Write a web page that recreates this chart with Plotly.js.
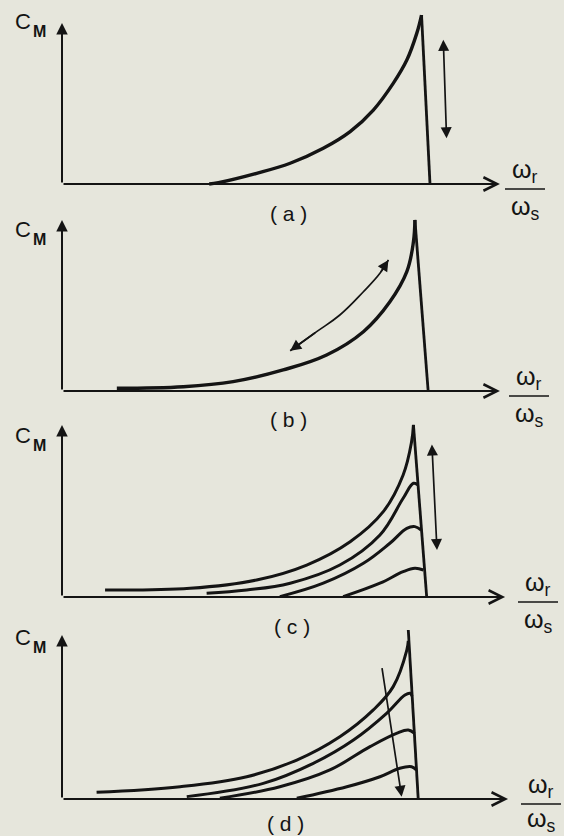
<!DOCTYPE html>
<html><head><meta charset="utf-8">
<script src="https://cdn.plot.ly/plotly-3.0.1.min.js"></script>
<style>html,body{margin:0;padding:0;background:#e6e6dc;}#chart{width:564px;height:836px;}</style>
</head><body><div id="chart"></div>
<script>
// ---------- DATA (relative speed wr/ws on x, relative torque C_M on y) ----------
// Panel (a)
const aCurveX = [0.400, 0.425, 0.529, 0.620, 0.710, 0.783, 0.846, 0.900, 0.937, 0.964, 0.977];
const aCurveY = [0.000, 0.008, 0.063, 0.122, 0.210, 0.308, 0.435, 0.592, 0.729, 0.886, 0.994];
const aDropX = [0.977, 1.000];
const aDropY = [0.994, 0.000];
const aArrowX = [1.036, 1.045];
const aArrowY = [0.857, 0.269];
// Panel (b)
const bCurveX = [0.149, 0.330, 0.465, 0.601, 0.719, 0.819, 0.891, 0.937, 0.955, 0.959];
const bCurveY = [0.016, 0.025, 0.055, 0.124, 0.212, 0.349, 0.525, 0.702, 0.878, 1.006];
const bDropX = [0.959, 0.995];
const bDropY = [1.006, 0.000];
const bArrowX = [0.620, 0.692, 0.755, 0.819, 0.864, 0.887];
const bArrowY = [0.237, 0.349, 0.447, 0.584, 0.692, 0.771];
// Panel (c)
const c1X = [0.117, 0.348, 0.529, 0.665, 0.783, 0.873, 0.927, 0.950, 0.955];
const c1Y = [0.041, 0.051, 0.100, 0.188, 0.325, 0.502, 0.718, 0.914, 1.012];
const c2X = [0.393, 0.502, 0.620, 0.755, 0.864, 0.927, 0.955, 0.968];
const c2Y = [0.022, 0.041, 0.081, 0.188, 0.365, 0.581, 0.669, 0.659];
const c3X = [0.592, 0.710, 0.819, 0.891, 0.937, 0.959, 0.976];
const c3Y = [0.002, 0.081, 0.198, 0.316, 0.404, 0.414, 0.394];
const c4X = [0.764, 0.864, 0.927, 0.959, 0.982];
const c4Y = [0.002, 0.081, 0.149, 0.169, 0.159];
const cDropX = [0.955, 0.991];
const cDropY = [1.012, 0.000];
const cArrowX = [1.005, 1.019];
const cArrowY = [0.906, 0.276];
// Panel (d)
const d1X = [0.094, 0.321, 0.502, 0.638, 0.755, 0.846, 0.900, 0.937, 0.941];
const d1Y = [0.039, 0.072, 0.131, 0.229, 0.366, 0.524, 0.661, 0.876, 0.930];
const d2X = [0.339, 0.547, 0.683, 0.792, 0.882, 0.932, 0.946, 0.951];
const d2Y = [0.014, 0.092, 0.210, 0.347, 0.504, 0.612, 0.622, 0.605];
const d3X = [0.429, 0.592, 0.728, 0.837, 0.909, 0.941, 0.958];
const d3Y = [0.004, 0.072, 0.171, 0.308, 0.386, 0.406, 0.386];
const d4X = [0.638, 0.774, 0.864, 0.918, 0.950, 0.963];
const d4Y = [0.004, 0.072, 0.131, 0.181, 0.190, 0.171];
const dDropX = [0.941, 0.968];
const dDropY = [0.994, 0.000];
const dArrowX = [0.869, 0.923];
const dArrowY = [0.778, 0.013];
// axis lengths (arrow tips) and labels
const yAxisTips = [0.947, 1.006, 1.012, 0.965];
const xAxisTips = [1.190, 1.190, 1.204, 1.212];
const panelLabels = ['( a )', '( b )', '( c )', '( d )'];
const yLabelMain = 'C';
const yLabelSub = 'M';
const xLabelTop = '\u03c9<sub>r</sub>';
const xLabelBottom = '\u03c9<sub>s</sub>';

// ---------- LAYOUT GEOMETRY ----------
const W = 564, H = 836;
const INK = '#141414';
const FONT = 'Liberation Sans, Arial, sans-serif';
const ORIGIN_X = 62, PXX = 368, PXY = 170;
const X_LO = -0.03, X_HI = 1.25, Y_LO = -0.04, Y_HI = 1.08;
const BASE = [184, 391, 597, 799];
const LABEL_X = [288, 288, 292, 285];
const LABEL_DY = [29, 29, 29, 24];
const FRAC_X = [525, 529, 538, 541];
const FRAC_LOW = [24, 24, 24, 21];

const panels = [
  {curves: [[aCurveX, aCurveY]], drop: [aDropX, aDropY], arrow: [aArrowX, aArrowY], both: true},
  {curves: [[bCurveX, bCurveY]], drop: [bDropX, bDropY], curved: [bArrowX, bArrowY]},
  {curves: [[c1X, c1Y], [c2X, c2Y], [c3X, c3Y], [c4X, c4Y]], drop: [cDropX, cDropY], arrow: [cArrowX, cArrowY], both: true},
  {curves: [[d1X, d1Y], [d2X, d2Y], [d3X, d3Y], [d4X, d4Y]], drop: [dDropX, dDropY], arrow: [dArrowX, dArrowY], both: false}
];

const px2x = p => p / W;
const py2y = p => 1 - p / H;

const traces = [];
const layout = {
  width: W, height: H, margin: {l: 0, r: 0, t: 0, b: 0},
  paper_bgcolor: '#e6e6dc', plot_bgcolor: 'rgba(0,0,0,0)',
  showlegend: false, annotations: [], shapes: []
};

panels.forEach((p, i) => {
  const s = i === 0 ? '' : String(i + 1);
  const xa = 'x' + s, ya = 'y' + s;
  const base = BASE[i];
  layout['xaxis' + s] = {
    domain: [px2x(ORIGIN_X + X_LO * PXX), px2x(ORIGIN_X + X_HI * PXX)],
    range: [X_LO, X_HI], visible: false, anchor: ya, fixedrange: true
  };
  layout['yaxis' + s] = {
    domain: [py2y(base - Y_LO * PXY), py2y(base - Y_HI * PXY)],
    range: [Y_LO, Y_HI], visible: false, anchor: xa, fixedrange: true
  };
  p.curves.forEach(c => traces.push({
    type: 'scatter', mode: 'lines', x: c[0], y: c[1], xaxis: xa, yaxis: ya,
    line: {color: INK, width: i < 2 ? 3.4 : 3.0, shape: 'spline', smoothing: 1.1}, hoverinfo: 'skip'
  }));
  traces.push({
    type: 'scatter', mode: 'lines', x: p.drop[0], y: p.drop[1], xaxis: xa, yaxis: ya,
    line: {color: INK, width: 2.8}, hoverinfo: 'skip'
  });
  // axes with arrowheads
  layout.annotations.push({
    xref: xa, yref: ya, axref: xa, ayref: ya, x: 0, y: yAxisTips[i], ax: 0, ay: 0,
    text: '', showarrow: true, arrowhead: 2, arrowsize: 1.15, arrowwidth: 2, arrowcolor: INK, standoff: 0
  });
  layout.annotations.push({
    xref: xa, yref: ya, axref: xa, ayref: ya, x: xAxisTips[i], y: 0, ax: 0, ay: 0,
    text: '', showarrow: true, arrowhead: 5, arrowsize: 1.4, arrowwidth: 1.9, arrowcolor: INK, standoff: 0
  });
  // change-direction arrows
  if (p.arrow) {
    layout.annotations.push({
      xref: xa, yref: ya, axref: xa, ayref: ya,
      x: p.arrow[0][1], y: p.arrow[1][1], ax: p.arrow[0][0], ay: p.arrow[1][0],
      text: '', showarrow: true, arrowhead: 2, startarrowhead: 2,
      arrowside: p.both ? 'end+start' : 'end',
      arrowsize: 1.3, startarrowsize: 1.3, arrowwidth: 1.7, arrowcolor: INK, standoff: 0, startstandoff: 0
    });
  }
  if (p.curved) {
    const cx = p.curved[0], cy = p.curved[1], n = cx.length;
    traces.push({
      type: 'scatter', mode: 'lines', x: cx, y: cy, xaxis: xa, yaxis: ya,
      line: {color: INK, width: 1.7, shape: 'spline', smoothing: 1.2}, hoverinfo: 'skip'
    });
    [[n - 1, n - 2], [0, 1]].forEach(([h, t]) => layout.annotations.push({
      xref: xa, yref: ya, axref: xa, ayref: ya, x: cx[h], y: cy[h], ax: cx[t], ay: cy[t],
      text: '', showarrow: true, arrowhead: 2, arrowsize: 1.3, arrowwidth: 1.7, arrowcolor: INK, standoff: 0
    }));
  }
  // texts
  layout.annotations.push({
    xref: 'paper', yref: 'paper', x: px2x(13), y: py2y(base - 162), xanchor: 'left', yanchor: 'middle',
    text: yLabelMain, showarrow: false, font: {family: FONT, size: 22, color: INK}
  });
  layout.annotations.push({
    xref: 'paper', yref: 'paper', x: px2x(31), y: py2y(base - 152), xanchor: 'left', yanchor: 'middle',
    text: yLabelSub, showarrow: false, font: {family: FONT, size: 16, color: INK, weight: 'bold'}
  });
  layout.annotations.push({
    xref: 'paper', yref: 'paper', x: px2x(LABEL_X[i]), y: py2y(base + LABEL_DY[i]), xanchor: 'center', yanchor: 'middle',
    text: panelLabels[i], showarrow: false, font: {family: FONT, size: 21, color: INK}
  });
  layout.annotations.push({
    xref: 'paper', yref: 'paper', x: px2x(FRAC_X[i]), y: py2y(base - 13), xanchor: 'center', yanchor: 'middle',
    text: xLabelTop, showarrow: false, font: {family: FONT, size: 25, color: INK}
  });
  layout.annotations.push({
    xref: 'paper', yref: 'paper', x: px2x(FRAC_X[i]), y: py2y(base + FRAC_LOW[i]), xanchor: 'center', yanchor: 'middle',
    text: xLabelBottom, showarrow: false, font: {family: FONT, size: 25, color: INK}
  });
  layout.shapes.push({
    type: 'line', xref: 'paper', yref: 'paper',
    x0: px2x(FRAC_X[i] - 20), x1: px2x(FRAC_X[i] + 20), y0: py2y(base + 5), y1: py2y(base + 5),
    line: {color: INK, width: 1.7}
  });
});

Plotly.newPlot('chart', traces, layout, {staticPlot: true, displayModeBar: false});
</script>
</body></html>
